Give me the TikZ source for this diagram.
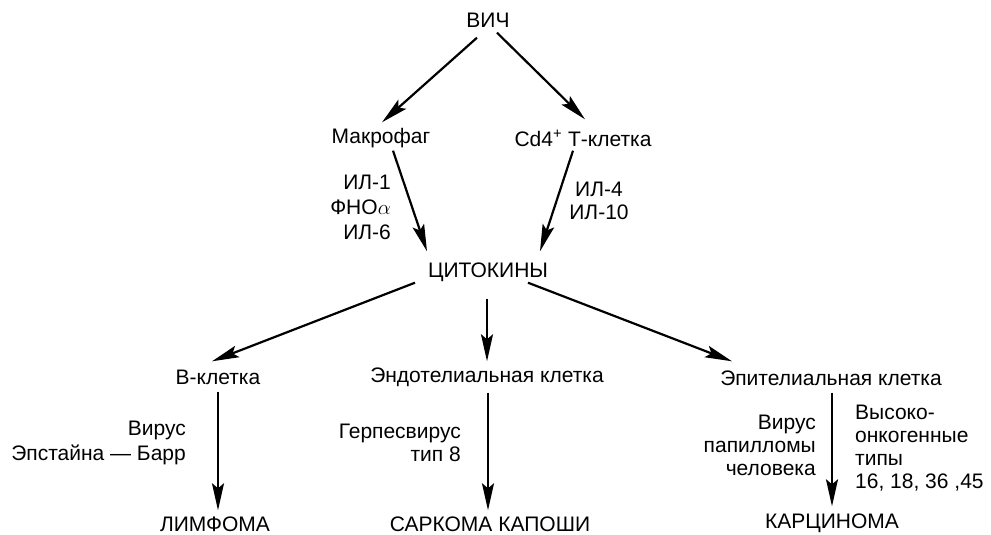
\documentclass[tikz,border=0pt]{standalone}
\usepackage{fontspec}
\setmainfont{Liberation Sans}
\usetikzlibrary{arrows.meta}

\begin{document}
\begin{tikzpicture}[
            x=1pt, y=-1pt,
            every node/.style = {font=\fontsize{21}{23}\selectfont, inner sep=0pt},
            term/.style = {text height=15pt, text depth=0pt},
            noteleft/.style = {align=right, anchor=east},
            noteright/.style = {align=left, anchor=west},
            arr/.style = {line width=2.2pt, -{Stealth[length=27pt, width=12pt, inset=5pt]}}
        ]
        \useasboundingbox (0,0) rectangle (991,535);

        \node[term] (hiv) at (488,20) {ВИЧ};
        \node[term] (macro) at (381,136) {Макрофаг};
        \node[term] (tcell) at (583,139) {Cd4\textsuperscript{+} Т-клетка};
        \node[term] (cyto) at (488,270) {ЦИТОКИНЫ};
        \node[term] (bcell) at (218,377) {В-клетка};
        \node[term] (endo) at (487,375) {Эндотелиальная клетка};
        \node[term] (epi) at (831,378) {Эпителиальная клетка};
        \node[term] (lymph) at (215,524) {ЛИМФОМА};
        \node[term] (sarc) at (490,524) {САРКОМА КАПОШИ};
        \node[term] (carc) at (832,521) {КАРЦИНОМА};

        \node[noteleft] (ilmacro) at (391,207) {ИЛ-1\\[2pt]ФНО$\alpha$\\[2pt]ИЛ-6};
        \node[align=center] (iltcell) at (599,201) {ИЛ-4\\ИЛ-10};
        \node[noteleft] (ebv) at (186,443) {Вирус\\[2pt]Эпстайна — Барр};
        \node[noteleft] (hhv) at (461,443) {Герпесвирус\\тип 8};
        \node[noteleft] (hpv) at (816,445) {Вирус\\папилломы\\человека};
        \node[noteright] (hpvtypes) at (855,448) {Высоко-\\онкогенные\\типы\\16, 18, 36 ,45};

        \draw[arr] ([shift={(-11,10)}]hiv.south) -- ([shift={(1,-6)}]macro.north);
        \draw[arr] ([shift={(9,5)}]hiv.south) -- ([shift={(2,-12)}]tcell.north);
        \draw[arr] ([shift={(12,7)}]macro.south) -- ([shift={(-61,-11)}]cyto.north);
        \draw[arr] ([shift={(-10,4)}]tcell.south) -- ([shift={(52,-11)}]cyto.north);
        \draw[arr] ([shift={(-73,5)}]cyto.south) -- ([shift={(-6,-8)}]bcell.north);
        \draw[arr] ([shift={(-1,21)}]cyto.south) -- ([shift={(0,-6)}]endo.north);
        \draw[arr] ([shift={(40,5)}]cyto.south) -- ([shift={(-99,-9)}]epi.north);
        \draw[arr] ([shift={(0,7)}]bcell.south) -- ([shift={(3,-6)}]lymph.north);
        \draw[arr] ([shift={(1,10)}]endo.south) -- ([shift={(-2,-6)}]sarc.north);
        \draw[arr] ([shift={(1,7)}]epi.south) -- ([shift={(0,-7)}]carc.north);
\end{tikzpicture}
\end{document}
